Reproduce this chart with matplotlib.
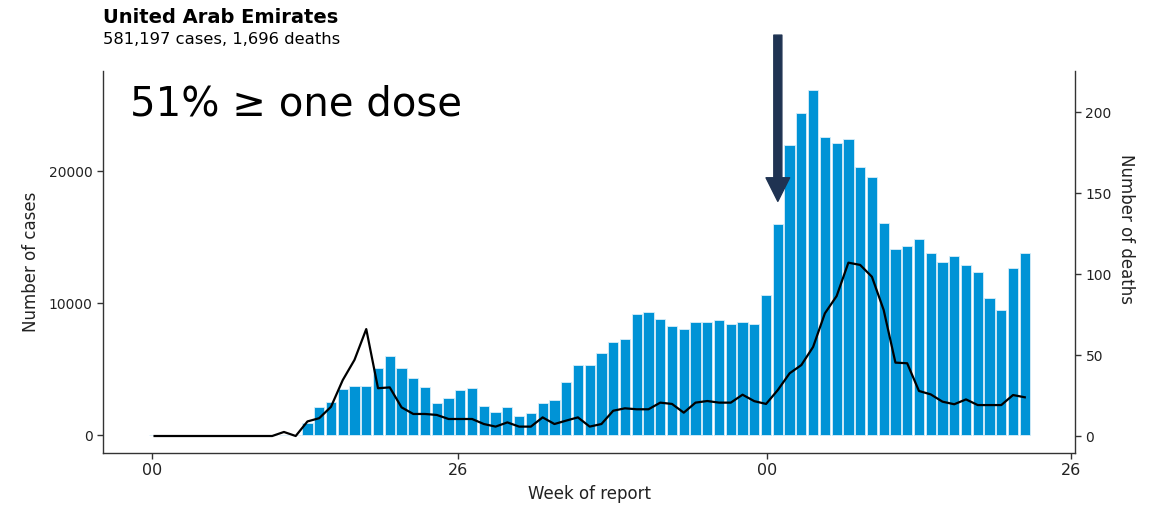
import pandas as pd
import matplotlib.pyplot as plt
import matplotlib.dates as mdates

# Weekly cases (bars) and deaths (line)
cases = [0, 0, 0, 0, 0, 0, 0, 0, 0, 0, 0, 0, 0,
         900, 2150, 2500, 3450, 3700, 3700, 5050, 5950, 5050, 4300, 3600, 2450,
         2780, 3430, 3560, 2200, 1770, 2100, 1460, 1690, 2450, 2630, 4020, 5280,
         5280, 6250, 7050, 7270, 9170, 9290, 8790, 8280, 8000, 8590, 8590, 8690,
         8380, 8590, 8380, 10600, 15960, 21990, 24420, 26140, 22550, 22100, 22450,
         20280, 19520, 16040, 14090, 14290, 14820, 13810, 13130, 13580, 12900,
         12350, 10380, 9440, 12650, 13810]
deaths = [0, 0, 0, 0, 0, 0, 0, 0, 0, 0, 0, 2.5, 0,
          9, 11, 18, 34.5, 47, 66, 29.5, 30, 17.7, 13.6, 13.6, 13,
          10.5, 10.5, 10.5, 7.4, 5.8, 8.4, 5.8, 5.8, 11.5, 7.4, 9.5, 11.5,
          5.8, 7.4, 15.6, 17.1, 16.5, 16.5, 20.6, 19.8, 14.4, 20.6, 21.6, 20.6,
          20.6, 25.5, 21.5, 19.8, 28.4, 38.7, 43.8, 55, 75.7, 86.4, 107,
          105.6, 98.3, 77.8, 45.3, 44.9, 27.8, 25.7, 21.2, 19.6, 22.6,
          19.1, 19.1, 19.1, 25.3, 23.9]
weeks = pd.date_range("2020-01-02 12:00", periods=len(cases), freq="7D")
tick_dates = pd.to_datetime(["2020-01-01", "2020-07-01", "2021-01-01", "2021-07-01"])

title = "United Arab Emirates"
subtitle = "581,197 cases, 1,696 deaths"
dose_note = "51% \u2265 one dose"
arrow_week = 53       # week the first-dose marker points at
arrow_tip = 17700     # cases level of arrow tip

bar_color = "#0093d6"
arrow_color = "#1f3352"
axis_color = "#333333"

fig = plt.figure(figsize=(11.52, 5.12), dpi=100)
ax = fig.add_axes([0.0894, 0.1152, 0.8438, 0.7461])

ax.bar(weeks, cases, width=6.1, color=bar_color, edgecolor="#d8eef9", linewidth=0.6)
ax.set_xlim(pd.Timestamp("2019-12-02 19:00"), pd.Timestamp("2021-07-03 10:00"))
ax.set_ylim(-1364, 27576)
ax.set_yticks([0, 10000, 20000])
ax.set_xticks(tick_dates)
ax.xaxis.set_major_formatter(mdates.DateFormatter("%W"))
ax.set_xlabel("Week of report", fontsize=12, color="#222222", labelpad=5)
ax.set_ylabel("Number of cases", fontsize=12, color="#222222")
ax.yaxis.set_label_coords(-0.065, 0.5)

# Deaths on the secondary axis
ax2 = ax.twinx()
ax2.plot(weeks, deaths, color="black", linewidth=1.6)
ax2.set_ylim(-10.5, 225.3)
ax2.set_yticks([0, 50, 100, 150, 200])
ax2.set_ylabel("Number of deaths", fontsize=12, color="#222222", rotation=-90, va="bottom")
ax2.yaxis.set_label_coords(1.043, 0.586)

for a in (ax, ax2):
    a.spines["top"].set_visible(False)
    for s in ("left", "right", "bottom"):
        a.spines[s].set_color(axis_color)
        a.spines[s].set_linewidth(1.0)
    a.tick_params(colors=axis_color, labelcolor="#222222", length=4, width=1)
ax.tick_params(axis="y", labelsize=10)
ax.tick_params(axis="x", labelsize=11.5)
ax2.tick_params(axis="y", labelsize=10)
ax.spines["right"].set_visible(False)
ax2.spines["left"].set_visible(False)
ax2.spines["bottom"].set_visible(False)

# Titles and the vaccination note
fig.text(0.0894, 0.956, title, fontsize=14, fontweight="bold", va="baseline")
fig.text(0.0894, 0.914, subtitle, fontsize=11.8, va="baseline")
fig.text(0.113, 0.775, dose_note, fontsize=29, va="baseline")

arrow_x = mdates.date2num(weeks[arrow_week])
ax.annotate("", xy=(arrow_x, arrow_tip), xycoords="data",
            xytext=(arrow_x, 1.094), textcoords=("data", "axes fraction"),
            arrowprops=dict(arrowstyle="simple,head_width=1.7,head_length=1.7,tail_width=0.58",
                            mutation_scale=10, color=arrow_color, shrinkA=0, shrinkB=0),
            annotation_clip=False)

plt.savefig("out.png", dpi=100)
plt.close()
